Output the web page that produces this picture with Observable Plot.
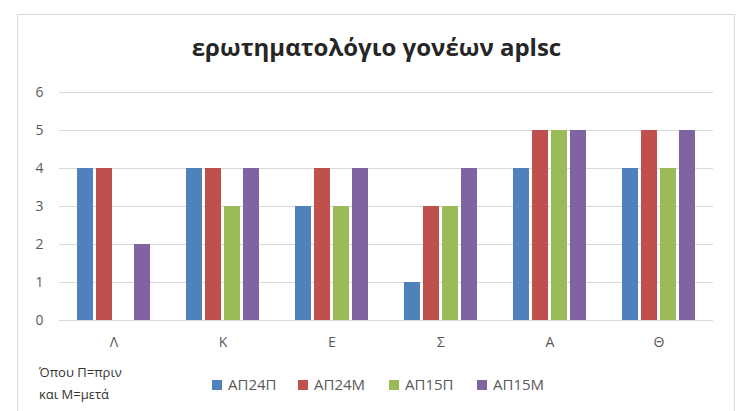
<!DOCTYPE html>
<html>
<head>
<meta charset="utf-8">
<script src="https://cdn.jsdelivr.net/npm/d3@7"></script>
<script src="https://cdn.jsdelivr.net/npm/@observablehq/plot@0.6"></script>
<style>
  html, body { margin: 0; padding: 0; background: #fff; }
  #wrap { position: relative; width: 736px; height: 411px; overflow: hidden; font-family: "Open Sans", sans-serif; }
  #frame { position: absolute; left: 17px; top: 14px; width: 718px; height: 430px; border: 1px solid #d9d9d9; box-sizing: border-box; }
  #title { position: absolute; left: 0; width: 753px; top: 30px; text-align: center; font-size: 24px; font-weight: 700; color: #262626; white-space: nowrap; }
  #chart { position: absolute; left: 0; top: 75px; }
  #note { position: absolute; left: 39px; top: 361px; font-size: 13px; line-height: 22px; color: #333; }
  #legend { position: absolute; top: 374px; left: 0; width: 736px; height: 20px; }
  .item { position: absolute; top: 0; font-size: 15px; color: #595959; line-height: 20px; white-space: nowrap; }
  .sw { display: inline-block; width: 10px; height: 10px; margin-right: 6px; vertical-align: 0px; }
</style>
</head>
<body>
<div id="wrap">
  <div id="frame"></div>
  <div id="title">ερωτηματολόγιο γονέων aplsc</div>
  <div id="chart"></div>
  <div id="note">Όπου Π=πριν<br>και Μ=μετά</div>
  <div id="legend"></div>
</div>
<script>
const categories = ["Λ", "Κ", "Ε", "Σ", "Α", "Θ"];
const seriesNames = ["ΑΠ24Π", "ΑΠ24Μ", "ΑΠ15Π", "ΑΠ15Μ"];
const ap24p = [4, 4, 3, 1, 4, 4];
const ap24m = [4, 4, 4, 3, 5, 5];
const ap15p = [null, 3, 3, 3, 5, 4];
const ap15m = [2, 4, 4, 4, 5, 5];
const seriesColors = ["#4F81BD", "#C0504D", "#9BBB59", "#8064A2"];
const yTicks = [0, 1, 2, 3, 4, 5, 6];
const legendLeft = [212, 298, 389, 477];

const seriesValues = [ap24p, ap24m, ap15p, ap15m];
const data = [];
categories.forEach((c, i) => {
  seriesNames.forEach((s, j) => {
    const v = seriesValues[j][i];
    if (v != null) data.push({cat: c, series: s, value: v});
  });
});

const chart = Plot.plot({
  width: 736,
  height: 290,
  marginLeft: 57,
  marginRight: 21,
  marginTop: 17,
  marginBottom: 45,
  style: {fontFamily: "Open Sans, sans-serif", fontSize: "14px", color: "#595959", background: "transparent", overflow: "visible"},
  fx: {domain: categories, paddingInner: 0, paddingOuter: 0, label: null, tickSize: 0, tickPadding: 17, axis: "bottom"},
  x: {domain: seriesNames, axis: null, paddingInner: 0.18, paddingOuter: 0.9},
  y: {domain: [0, 6], ticks: yTicks, tickFormat: d3.format("d"), label: null, tickSize: 0, tickPadding: 16},
  color: {domain: seriesNames, range: seriesColors},
  marks: [
    Plot.ruleY(yTicks, {stroke: "#d9d9d9", strokeWidth: 1}),
    Plot.barY(data, {fx: "cat", x: "series", y: "value", fill: "series"})
  ]
});
document.getElementById("chart").appendChild(chart);

const legend = document.getElementById("legend");
seriesNames.forEach((s, i) => {
  const item = document.createElement("div");
  item.className = "item";
  item.style.left = legendLeft[i] + "px";
  const sw = document.createElement("span");
  sw.className = "sw";
  sw.style.background = seriesColors[i];
  item.appendChild(sw);
  item.appendChild(document.createTextNode(s));
  legend.appendChild(item);
});
</script>
</body>
</html>
